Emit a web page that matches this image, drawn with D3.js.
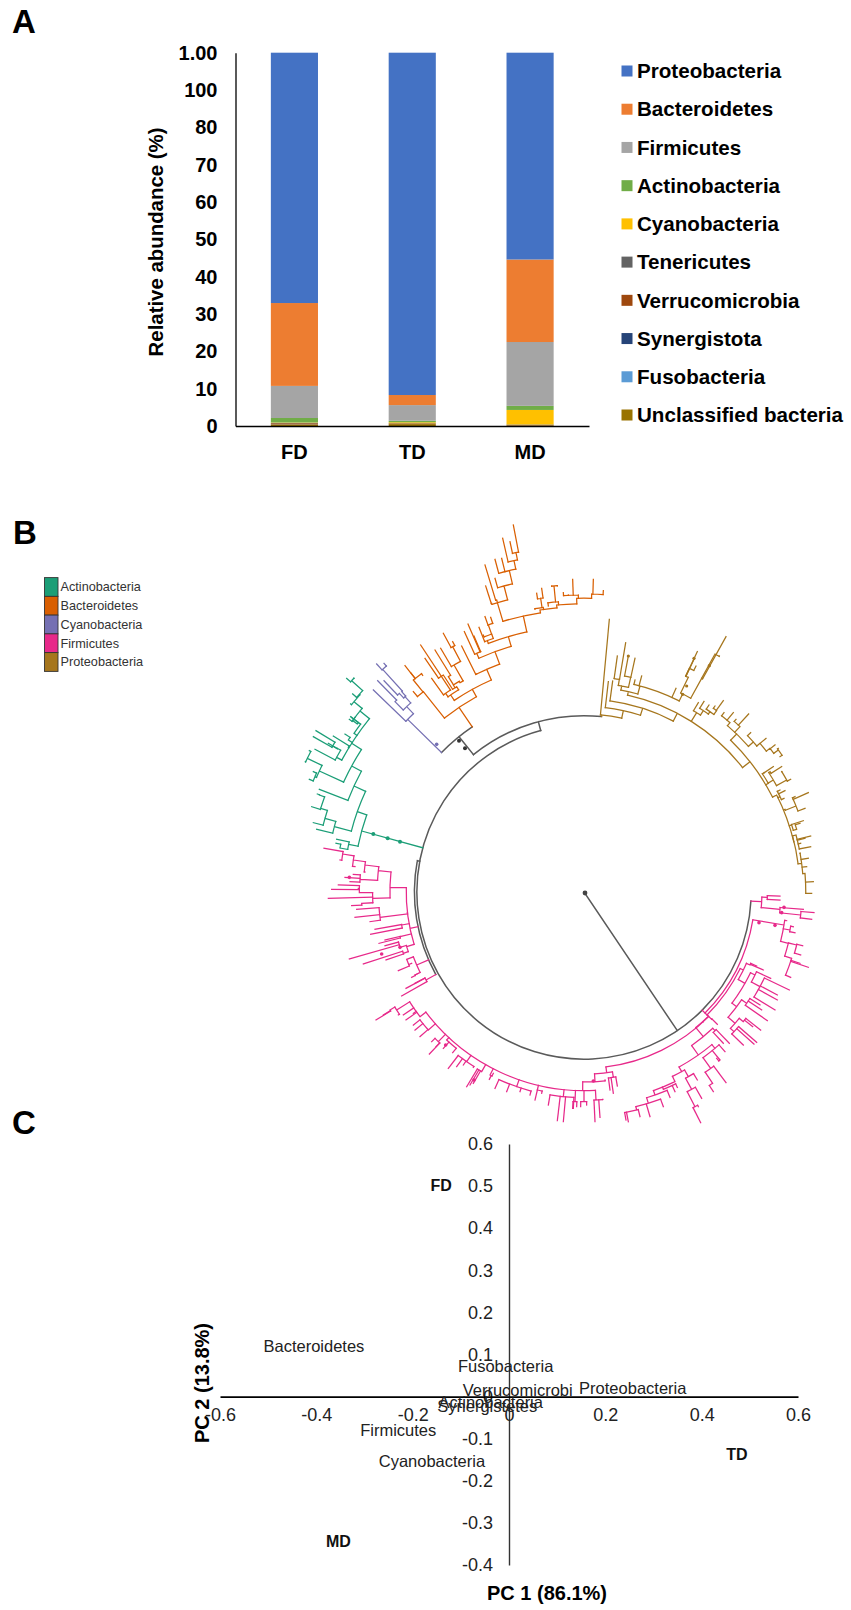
<!DOCTYPE html>
<html><head><meta charset="utf-8">
<script src="https://cdn.jsdelivr.net/npm/d3@7/dist/d3.min.js"></script>
<style>html,body{margin:0;padding:0;background:#fff}svg{display:block;font-family:"Liberation Sans",Arial,sans-serif}</style>
</head><body><svg id="c" width="851" height="1610"></svg>
<script>
// ---------- Panel A data ----------
const groups = ["FD","TD","MD"];
const phyla = ["Unclassified bacteria","Fusobacteria","Synergistota","Verrucomicrobia","Tenericutes","Cyanobacteria","Actinobacteria","Firmicutes","Bacteroidetes","Proteobacteria"];
const legendOrder = phyla.slice().reverse();
const barColors = ["#997300","#5B9BD5","#264478","#9E480E","#636363","#FFC000","#70AD47","#A5A5A5","#ED7D31","#4472C4"];
const unclassified = [0.4,0.5,0.15];
const fusobacteria = [0.02,0,0];
const synergistota = [0.02,0,0];
const verrucomicrobia = [0.3,0.2,0.1];
const tenericutes = [0.1,0.05,0.15];
const cyanobacteria = [0.1,0.25,3.9];
const actinobacteria = [1.2,0.4,1.1];
const firmicutes = [8.6,4.2,17.1];
const bacteroidetes = [22.2,2.7,22.1];
const proteobacteria = [67.06,91.7,55.4];
const barSeries = [unclassified,fusobacteria,synergistota,verrucomicrobia,tenericutes,cyanobacteria,actinobacteria,firmicutes,bacteroidetes,proteobacteria];
const yTickValues = [0,10,20,30,40,50,60,70,80,90,100];
const yTickLabels = ["0","10","20","30","40","50","60","70","80","100","1.00"];

// ---------- Panel B data: branch points, in three reading frames ----------
const treeLegend = ["Actinobacteria","Bacteroidetes","Cyanobacteria","Firmicutes","Proteobacteria"];
const treeColors = ["#1B9E77","#D95F02","#7570B3","#E7298A","#A6761D"];
const frameLeft = [280,510], frameRight = [560,580], frameLowLeft = [300,840], frameLowRight = [560,880];

const actinoTree = [245,963,
  [232,905,
    [222,828,
      [215,768,
        [215,700,
          [240,603,[222,575,[238,553,[215,512,[200,505],[222,505]],[218,552]],[212,582]],[225,622,[208,628]],[232,642,[214,622]]],
          [170,742,[105,718],[172,715,[158,708,[108,662],[100,680]],[145,700]]],
          [205,712,[160,678]],
          [222,670,[212,620]],[205,690,[195,672]]],
        [118,783,[82,745,[88,722],[76,755]],[105,800,[88,808],[100,785]]]],
      [118,838]],
    [163,950,[110,958],[135,925,[100,938],[122,895,[95,890],[118,855,[112,852]]]]]],
  [206,1003,[170,988],[180,1014,[168,1000]]]];

const cyanoTree = [383,628,[280,540],
  [380,590,[345,575,[293,512]],
    [375,560,[358,550,[312,512]],[365,545,[308,478,[290,462],[312,460]]]]]];

const bacteroTree = [537,592,
  [430,545,[400,510,[375,467],[392,488],[428,496]],[400,545]],
  [577,538,
    [512,555,[497,550,[455,505],[422,405]],
      [530,530,[490,495,[435,445]],
        [520,525,[505,500,[465,420]],
          [540,518,[522,465,[482,415],[518,410,[490,370],[518,395]]]]]]],
    [620,478,
      [590,492,[545,408]],
      [645,425,
        [590,430,[553,365],[564,342],[582,378]],
        [685,380,
          [622,392,[597,352],[635,372,[625,345,[615,320],[632,322]],[610,375]]],
          [730,318,
            [652,278,[635,280,[617,228]],[650,270,[615,165]],
              [672,228,[645,205],[688,182,[645,148],[665,145],[702,152,[668,85],[708,128,[700,45],[690,95]]]]]],
            [780,300,
              [790,292,[765,298],[782,265,[770,250],[785,235]]],
              [830,285,
                [835,275,[822,228,[815,228],[832,228]],[805,288]],
                [890,265,[895,255,[878,208],[850,248],[865,255]],[935,252,[940,208],[970,242]]]]]]]]]]];

const proteoTree = [125,405,[148,118],
  [190,392,[145,305],
    [248,385,[158,303],
      [352,400,
        [205,335,
          [185,318,[178,298,[172,228],[197,188]],[212,292,[205,228],[225,235]]],
          [240,318,[225,300],[245,288],[348,325],
            [368,342,[385,292,[412,215],[402,238],[388,265,[408,258]]],[425,295,[498,170],[465,222,[478,228]]]]]],
        [410,398,[415,368],[430,392,[432,364],[450,395,[447,375],[470,392,[490,362],[465,378]]]]],
        [570,545,
          [530,462,[510,428,[492,398],[520,398]],[540,440,[566,402],[528,418]],
            [580,486,[572,458],[600,490,[618,475],[630,505,[645,495],[655,510,[660,530],[655,505]]]]]],
          [625,610,[612,578,[640,560]],[640,600,[630,575,[665,560]],[680,600,[665,575],[692,598]]]],
          [650,645,
            [660,650,[675,632],[660,630],[672,655]],
            [675,688,[708,678,[745,638],[735,685],[705,650]]],
            [695,735,[730,722],[710,748,[720,730]]],
            [702,785,
              [708,765,[752,768],[735,775],[752,800],[722,790]],
              [725,850,[745,835],[740,860],[735,880,[760,905],[755,940]],[720,820]]]]]]]]];

const firmiRightTop = [605,65,[622,52,[660,48],[660,60]],[660,88,[730,88],[722,105,[762,98],[755,118]]]];
const firmiRightStem = [672,135,[680,122],[690,150,[705,158],[700,140]],
  [685,190,[710,195,[728,197],[722,225]],[695,235,[745,262],[720,250],[692,292]]]];
const firmiRightFan = [550,270,
  [570,255,[610,270],[590,258]],
  [555,310,
    [585,285,[632,295],[600,320,[688,330],[652,345],[652,360],[645,390]]],
    [530,380,
      [560,370,[605,390],[600,375],[622,422]],
      [525,430,[550,425,[602,450],[578,440]],[522,455,[590,487],[582,492],[550,495]]]]]];
const firmiLowFan = [428,425,
  [455,418,[472,433]],
  [430,470,
    [465,452,[508,490],[490,490]],
    [415,525,
      [465,505,[495,515],[480,540,[470,535]],[452,565,[498,608],[458,610,[460,635]]]],
      [365,575,
        [385,590,[412,600],[395,628,[425,655],[405,680,[422,728],[415,680]]]],
        [345,605,[310,628,[352,622],[345,635]],
          [285,645,[330,652],[265,670,[310,680],[270,710],[230,690,[240,710],[205,725],[198,720]]]]]]]]];
const firmiBottomRim = [848,752,
  [888,780,[885,845],[900,832],[908,778]],
  [852,785,[842,800],[860,795]],
  [825,785,[818,805],[830,800]],
  [790,770,[772,842],[790,845],[745,795],[820,805]],
  [712,750,[705,780],[725,760]],
  [650,740,[690,765],[660,755],[620,755],[585,745]],
  [570,705,[568,718],[580,700]],
  [545,695,[500,740],[520,730],[510,735]],
  [500,665,[445,685],[470,680],[490,675],[520,682]],
  [440,600,[458,638],[430,625]],
  [415,605,[388,642],[408,620],[395,605]],
  [385,570,[360,590],[345,570],[340,555]],
  [360,530,[310,525],[340,520],[318,540],[290,510,[270,510,[228,540],[250,525]],[295,525]]]];
const firmiBottomNear = [140,578,[160,592,[160,640],[172,618],[150,630]],[105,605,[135,600]]];
const firmiLeftUpper = [330,265,
  [270,142,
    [235,92,[195,75,[160,60,[128,42,[72,25],[120,60]],[165,80]],[195,96]],[180,118,[135,112],[150,125],[160,103]]],
    [218,175,[178,158,[95,148],[115,135],[175,145]],[85,175],[185,190,[155,197]]]],
  [322,218,[240,232,[170,208],[165,232],[210,245]]],
  [305,255,[225,268],[212,283]],
  [300,290,[237,310],[255,300]],
  [320,320,[300,322,[148,357],[255,317]],[310,340,[190,372],[258,360]]]];
const firmiLeftMid = [350,375,[320,358,[335,370],[295,392]],[345,405,[355,400],[335,412]]];
const firmiLeftLow = [378,420,[305,468],[318,445],[345,430]];

const rootPoint = [585,893];
const mainRing = [352,452];       // right-low frame
const outerLeftRing = [352,62];   // low-left frame
const upperRing = [775,635];      // left frame
const cyanoBacteroNode = [537,680]; // left frame
const firmiRing = [[435,399],[441,405],[446,410]]; // right-low frame

const actinoDots = [[360,995],[323,985],[280,972]];
const grayDots = [[555,715],[537,692]];
const cyanoDots = [[470,703]];
const proteoDots = [[205,228],[402,235],[380,318],[368,343],[448,257]];
const firmiDotsRight = [[597,128],[645,136],[672,82],[665,98],[100,603]];
const firmiDotsLeft = [[148,112],[300,322],[245,342],[522,720],[437,615]];

// ---------- Panel C data ----------
const sampleNames = ["FD","TD","MD"];
const samplePC1 = [-0.141,0.473,-0.354];
const samplePC2 = [0.501,-0.138,-0.344];
const taxaNames = ["Bacteroidetes","Fusobacteria","Verrucomicrobi","Proteobacteria","Actinobacteria","Synergistetes","Firmicutes","Cyanobacteria"];
const taxaPC1 = [-0.405,-0.007,0.018,0.257,-0.038,-0.045,-0.230,-0.160];
const taxaPC2 = [0.119,0.072,0.014,0.019,-0.014,-0.024,-0.081,-0.154];
const pcaXTicks = [-0.6,-0.4,-0.2,0,0.2,0.4,0.6];
const pcaYTicks = [-0.4,-0.3,-0.2,-0.1,0,0.1,0.2,0.3,0.4,0.5,0.6];

// ---------- Drawing ----------
const svg = d3.select("#c");
const panel = (t,x,y)=>svg.append("text").attr("x",x).attr("y",y).attr("font-size",33).attr("font-weight","bold").text(t);
panel("A",12,33); panel("B",13,544); panel("C",12,1134);

// Panel A
const xA = d3.scaleBand().domain(groups).range([235.5,589]).paddingInner(0.6).paddingOuter(0.3);
const yA = d3.scaleLinear().domain([0,100]).range([426,52.7]);
const stackRows = groups.map((g,i)=>{const o={group:g};phyla.forEach((p,j)=>o[p]=barSeries[j][i]);return o;});
const stacked = d3.stack().keys(phyla)(stackRows);
const colorA = d3.scaleOrdinal().domain(phyla).range(barColors);
svg.append("g").selectAll("g").data(stacked).join("g").attr("fill",d=>colorA(d.key))
  .selectAll("rect").data(d=>d).join("rect")
  .attr("x",d=>xA(d.data.group)).attr("width",xA.bandwidth())
  .attr("y",d=>yA(d[1])).attr("height",d=>Math.max(0,yA(d[0])-yA(d[1])));
const axA = svg.append("g").attr("transform","translate(235.5,0)")
  .call(d3.axisLeft(yA).tickValues(yTickValues).tickSize(0).tickPadding(18).tickFormat((d,i)=>yTickLabels[i]));
axA.selectAll("text").attr("font-size",20).attr("font-weight","bold").attr("font-family","Liberation Sans").attr("fill","#000");
axA.select(".domain").attr("stroke","#000").attr("stroke-width",1.3);
const axAx = svg.append("g").attr("transform","translate(0,426)")
  .call(d3.axisBottom(xA).tickSize(0).tickPadding(19));
axAx.selectAll("text").attr("font-size",20).attr("font-weight","bold").attr("font-family","Liberation Sans").attr("fill","#000");
axAx.select(".domain").attr("stroke","#000").attr("stroke-width",1.6);
svg.append("text").attr("transform","translate(163,242) rotate(-90)").attr("text-anchor","middle")
  .attr("font-size",20.4).attr("font-weight","bold").text("Relative abundance (%)");
const legY = d3.scalePoint().domain(legendOrder).range([71,415]);
const legA = svg.append("g").selectAll("g").data(legendOrder).join("g").attr("transform",d=>`translate(0,${legY(d)})`);
legA.append("rect").attr("x",621.5).attr("y",-5.5).attr("width",11).attr("height",11).attr("fill",d=>colorA(d));
legA.append("text").attr("x",637).attr("dy","0.35em").attr("font-size",20.6).attr("font-weight","bold").text(d=>d);

// Panel B
const frame = ([ox,oy])=>({x:d3.scaleLinear().domain([0,3]).range([ox,ox+1]),y:d3.scaleLinear().domain([0,3]).range([oy,oy+1])});
const fL=frame(frameLeft), fR=frame(frameRight), fLL=frame(frameLowLeft), fLR=frame(frameLowRight);
const cx=584, cy=892;
const read=(f,a,color)=>{ if(!Array.isArray(a)) return a;
  const [x,y,...kids]=a; const n={x:f.x(x),y:f.y(y),color};
  n.kids=kids.map(k=>read(f,k,color));
  const dx=n.x-cx, dy=n.y-cy; n.r=Math.hypot(dx,dy); n.t=(Math.atan2(dy,dx)*180/Math.PI-0.5+360)%360;
  return n; };
const [cAct,cBac,cCya,cFir,cPro]=treeColors; const cGray="#5a5a5a";
const withKids=(f,pt,color,kids)=>read(f,[pt[0],pt[1],...kids],color);
const nearNode=withKids(fLR,firmiBottomNear.slice(0,2),cFir,[
  firmiBottomNear[2],
  [105,605,[135,600],read(fLL,firmiBottomRim,cFir)]]);
const ring3=withKids(fLR,firmiRing[2],cFir,[read(fLR,firmiLowFan,cFir),nearNode]);
const ring2=withKids(fLR,firmiRing[1],cFir,[read(fLR,firmiRightFan,cFir),ring3]);
const ring1=withKids(fLR,firmiRing[0],cFir,[read(fLR,firmiRightStem,cFir),ring2]);
const outerLeft=withKids(fLL,outerLeftRing,cGray,[read(fLL,firmiLeftUpper,cFir),read(fLL,firmiLeftMid,cFir),read(fLL,firmiLeftLow,cFir)]);
const cbNode=withKids(fL,cyanoBacteroNode,cGray,[read(fL,cyanoTree,cCya),read(fL,bacteroTree,cBac)]);
const upper=withKids(fL,upperRing,cGray,[cbNode,read(fR,proteoTree,cPro)]);
const rootRing=withKids(fLR,mainRing,cGray,[read(fLR,firmiRightTop,cFir),ring1,outerLeft,read(fL,actinoTree,cAct),upper]);
const branches=[];
(function walk(n,pr){branches.push({n,pr});n.kids.forEach(k=>walk(k,n.r));})(rootRing,0);
const pt=(t,r)=>{const a=(t+0.5)*Math.PI/180;return [cx+r*Math.cos(a),cy+r*Math.sin(a)];};
const branchPath=({n,pr})=>{const p=d3.path();const s=pt(n.t,pr),e=pt(n.t,n.r);
  p.moveTo(s[0],s[1]);p.lineTo(e[0],e[1]);
  if(n.kids.length){const ts=[n.t,...n.kids.map(k=>k.t)];const a=d3.min(ts),b=d3.max(ts);
    const q=pt(a,n.r);p.moveTo(q[0],q[1]);
    p.arc(cx,cy,n.r,(a+0.5)*Math.PI/180,(b+0.5)*Math.PI/180);}
  return p.toString();};
svg.append("g").attr("fill","none").attr("stroke-linecap","square").selectAll("path").data(branches).join("path")
  .attr("d",branchPath).attr("stroke",d=>d.n.color).attr("stroke-width",d=>d.n.color===cGray?1.5:1.25);
const dotSets=[[fL,actinoDots,cAct,2],[fL,grayDots,"#333",2],[fL,cyanoDots,cCya,1.8],[fR,proteoDots,cPro,1.6],[fLR,firmiDotsRight,cFir,1.8],[fLL,firmiDotsLeft,cFir,1.8]];
dotSets.forEach(([f,pts,col,rad])=>svg.append("g").selectAll("circle").data(pts).join("circle")
  .attr("cx",d=>f.x(d[0])).attr("cy",d=>f.y(d[1])).attr("r",rad).attr("fill",col));
svg.append("circle").attr("cx",rootPoint[0]).attr("cy",rootPoint[1]).attr("r",2.4).attr("fill","#444");
const tleg=d3.scalePoint().domain(treeLegend).range([587,662]);
const tl=svg.append("g").selectAll("g").data(treeLegend).join("g").attr("transform",d=>`translate(0,${tleg(d)})`);
tl.append("rect").attr("x",44.5).attr("y",-9.4).attr("width",13.5).attr("height",18.8)
  .attr("fill",(d,i)=>treeColors[i]).attr("stroke","#333").attr("stroke-width",0.9);
tl.append("text").attr("x",60.5).attr("dy","0.35em").attr("font-size",12.7).attr("fill","#333").text(d=>d);

// Panel C
const xC=d3.scaleLinear().domain([-0.6,0.6]).range([220,798]);
const yC=d3.scaleLinear().domain([-0.4,0.6]).range([1565,1144]);
const fmt=d=>d===0?"0":d.toFixed(1);
const axCy=svg.append("g").attr("transform",`translate(${xC(0)},0)`)
  .call(d3.axisLeft(yC).tickValues(pcaYTicks).tickSize(0).tickPadding(16).tickFormat(fmt));
axCy.selectAll("text").attr("font-size",18).attr("font-family","Liberation Sans").attr("fill","#222");
axCy.select(".domain").attr("stroke","#333").attr("stroke-width",1.4);
const axCx=svg.append("g").attr("transform",`translate(0,${yC(0)})`)
  .call(d3.axisBottom(xC).tickValues(pcaXTicks).tickSize(0).tickPadding(12).tickFormat(fmt));
axCx.selectAll("text").attr("font-size",18).attr("font-family","Liberation Sans").attr("fill","#222");
axCx.select(".domain").attr("stroke","#000").attr("stroke-width",1.8);
svg.append("g").selectAll("text").data(taxaNames).join("text")
  .attr("x",(d,i)=>xC(taxaPC1[i])).attr("y",(d,i)=>yC(taxaPC2[i])).attr("dy","0.35em")
  .attr("text-anchor","middle").attr("font-size",16.5).attr("fill","#222").text(d=>d);
svg.append("g").selectAll("text").data(sampleNames).join("text")
  .attr("x",(d,i)=>xC(samplePC1[i])).attr("y",(d,i)=>yC(samplePC2[i])).attr("dy","0.35em")
  .attr("text-anchor","middle").attr("font-size",16).attr("font-weight","bold").attr("fill","#111").text(d=>d);
svg.append("text").attr("x",547).attr("y",1593).attr("dy","0.35em").attr("text-anchor","middle").attr("font-size",20).attr("font-weight","bold").text("PC 1 (86.1%)");
svg.append("text").attr("transform","translate(202,1383) rotate(-90)").attr("dy","0.35em").attr("text-anchor","middle").attr("font-size",20).attr("font-weight","bold").text("PC 2 (13.8%)");
</script></body></html>
